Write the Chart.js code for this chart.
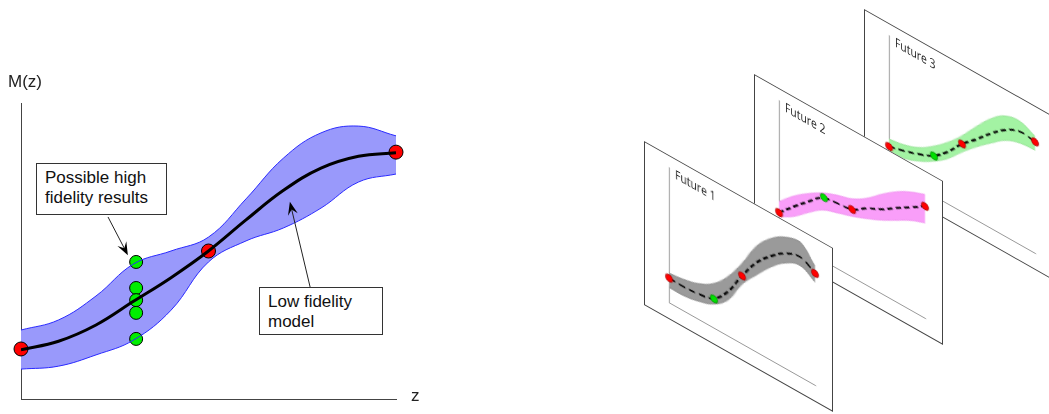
<!DOCTYPE html>
<html>
<head>
<meta charset="utf-8">
<style>
  body { margin: 0; background: #fff; }
  #wrap { position: relative; width: 1049px; height: 414px; overflow: hidden; font-family: "Liberation Sans", Arial, sans-serif; }
  #mainChart { position: absolute; left: 0; top: 0; }
  .lbl { position: absolute; font-size: 17px; color: #222; line-height: 20px; }
  .box { position: absolute; border: 1px solid #333; background: #fff; box-sizing: border-box; font-size: 17px; line-height: 20px; color: #111; padding: 4px 0 0 8px; }
  .plane { position: absolute; width: 189px; height: 164px; box-sizing: border-box; border: 1px solid #444; background: #fff;
           transform: skewY(29.5deg); transform-origin: 0 0; }
  .plane canvas { position: absolute; left: -1px; top: -1px; }
  .ftitle { position: absolute; left: 30px; top: 5px; font-family: "Open Sans", sans-serif; font-size: 13px; color: #222;
            transform: scaleX(0.8); transform-origin: 0 0; white-space: nowrap; }
</style>
</head>
<body>
<div id="wrap">
  <canvas id="mainChart" width="440" height="414"></canvas>
  <div class="lbl" style="left:8px; top:72px;">M(z)</div>
  <div class="lbl" style="left:411px; top:386px;">z</div>
  <div class="box" style="left:36px; top:163px; width:131px; height:52px;">Possible high<br>fidelity results</div>
  <div class="box" style="left:259px; top:287px; width:124px; height:48px;">Low fidelity<br>model</div>

  <div class="plane" style="left:864px; top:9px; z-index:1;"><canvas id="f3" width="189" height="164"></canvas><div class="ftitle">Future 3</div></div>
  <div class="plane" style="left:754px; top:74px; z-index:2;"><canvas id="f2" width="189" height="164"></canvas><div class="ftitle">Future 2</div></div>
  <div class="plane" style="left:644px; top:141px; z-index:3;"><canvas id="f1" width="189" height="164"></canvas><div class="ftitle">Future 1</div></div>
</div>

<script src="https://cdn.jsdelivr.net/npm/chart.js"></script>
<script>
// ---- data ----
var zs = [0, 1, 2, 3, 4, 5, 6, 7, 8, 9, 10]

// left panel: low fidelity model
var lowMean  = [1.66, 1.95, 2.5, 3.3, 4.1, 5.0, 6.05, 7.05, 7.8, 8.2, 8.32]
var lowUpper = [2.33, 2.67, 3.48, 4.56, 5.0, 5.47, 6.76, 8.14, 8.99, 9.22, 8.89]
var lowLower = [1.01, 1.11, 1.49, 1.99, 3.0, 4.63, 5.34, 5.78, 6.45, 7.33, 7.6]
var redZ = [0, 5, 10]
var redM = [1.69, 5.0, 8.34]
var greenZ = [3.07, 3.07, 3.07, 3.07, 3.07]
var greenM = [4.63, 3.75, 3.34, 2.91, 2.03]

// annotation arrows (data units): [fromZ, fromM, toZ, toM]
var arrowHigh = [2.32, 6.15, 2.85, 4.86]
var arrowLow  = [7.71, 3.78, 7.17, 6.66]

// futures
var f1Mean  = [1.78, 1.75, 1.85, 2.1, 3.2, 5.0, 6.6, 7.7, 8.5, 8.84, 8.25]
var f1Upper = [2.15, 2.3, 2.6, 3.2, 4.3, 5.9, 7.8, 9.0, 9.7, 9.95, 8.8]
var f1Lower = [1.1, 1.1, 1.3, 1.7, 2.6, 4.4, 5.7, 6.9, 7.8, 8.2, 7.6]
var f1Red = [1.78, 5.0, 8.25]
var f1Green = 2.12

var f2Mean  = [1.67, 2.72, 3.7, 4.6, 4.8, 4.96, 5.66, 6.2, 6.9, 7.57, 8.26]
var f2Upper = [2.48, 3.5, 4.3, 4.95, 5.4, 5.75, 6.4, 7.3, 8.1, 8.7, 9.13]
var f2Lower = [1.37, 2.0, 2.9, 3.7, 4.1, 4.46, 4.9, 5.4, 6.0, 6.6, 7.03]
var f2Red = [1.67, 4.96, 8.26]
var f2Green = 4.66

var f3Mean  = [1.75, 2.05, 2.42, 2.9, 3.8, 5.0, 5.96, 7.0, 7.87, 8.35, 8.21]
var f3Upper = [2.3, 2.5, 2.9, 3.6, 4.5, 5.6, 6.9, 8.1, 8.9, 9.1, 8.63]
var f3Lower = [1.38, 1.5, 1.9, 2.5, 3.3, 4.4, 5.4, 6.3, 7.1, 7.5, 7.6]
var f3Red = [1.75, 5.0, 8.21]
var f3Green = 2.93
var futureGreenZ = 3.08

function pts(xs, ys) {
    return xs.map(function (x, i) { return { x: x, y: ys[i] } })
}

function drawArrow(chart, a) {
    var sx = chart.scales.x, sy = chart.scales.y
    var x1 = sx.getPixelForValue(a[0]), y1 = sy.getPixelForValue(a[1])
    var x2 = sx.getPixelForValue(a[2]), y2 = sy.getPixelForValue(a[3])
    var ctx = chart.ctx
    var ang = Math.atan2(y2 - y1, x2 - x1)
    var len = 13, wid = 5
    ctx.save()
    ctx.strokeStyle = '#222'
    ctx.fillStyle = '#000'
    ctx.lineWidth = 1
    ctx.beginPath()
    ctx.moveTo(x1, y1)
    ctx.lineTo(x2 - Math.cos(ang) * len * 0.6, y2 - Math.sin(ang) * len * 0.6)
    ctx.stroke()
    ctx.beginPath()
    ctx.moveTo(x2, y2)
    ctx.lineTo(x2 - Math.cos(ang) * len - Math.sin(ang) * wid, y2 - Math.sin(ang) * len + Math.cos(ang) * wid)
    ctx.lineTo(x2 - Math.cos(ang) * len * 0.6, y2 - Math.sin(ang) * len * 0.6)
    ctx.lineTo(x2 - Math.cos(ang) * len + Math.sin(ang) * wid, y2 - Math.sin(ang) * len - Math.cos(ang) * wid)
    ctx.closePath()
    ctx.fill()
    ctx.restore()
}

var arrows = {
    id: 'arrows',
    afterDraw: function (chart) {
        drawArrow(chart, arrowHigh)
        drawArrow(chart, arrowLow)
    }
}

function axes(color) {
    return {
        x: { type: 'linear', min: 0, max: 10,
             grid: { display: false, drawTicks: false }, ticks: { display: false },
             border: { display: true, color: color, width: 1 } },
        y: { type: 'linear', min: 0, max: 10,
             grid: { display: false, drawTicks: false }, ticks: { display: false },
             border: { display: true, color: color, width: 1 } }
    }
}

// ---- left chart ----
var mainChart = new Chart(document.getElementById('mainChart'), {
    type: 'line',
    data: {
        datasets: [
            { data: pts(zs, lowUpper), borderColor: '#2a2aff', borderWidth: 1, fill: '+1',
              backgroundColor: '#9999fb', pointRadius: 0, tension: 0.4, order: 2 },
            { data: pts(zs, lowLower), borderColor: '#2a2aff', borderWidth: 1, fill: false,
              pointRadius: 0, tension: 0.4, order: 2 },
            { data: pts(zs, lowMean), borderColor: '#000', borderWidth: 3, fill: false,
              pointRadius: 0, tension: 0.4, order: 1 },
            { data: pts(redZ, redM), showLine: false, pointRadius: 7, pointBackgroundColor: '#ff0000',
              pointBorderColor: '#000', pointBorderWidth: 1, clip: false, order: 5 },
            { data: pts(greenZ, greenM), showLine: false, pointRadius: 6.5, pointBackgroundColor: '#00ee00',
              pointBorderColor: '#000', pointBorderWidth: 1, clip: false, order: 5 }
        ]
    },
    options: {
        responsive: false,
        animation: false,
        layout: { padding: { left: 21, right: 44, top: 103, bottom: 15 } },
        scales: axes('#444'),
        plugins: { legend: { display: false }, tooltip: { enabled: false },
                   filler: { drawTime: 'beforeDatasetsDraw' } }
    },
    plugins: [arrows]
})

// ---- future planes ----
function makeFuture(id, mean, upper, lower, red, green, fillCol, edgeCol) {
    return new Chart(document.getElementById(id), {
        type: 'line',
        data: {
            datasets: [
                { data: pts(zs, upper), borderColor: edgeCol, borderWidth: 0.8, fill: '+1',
                  backgroundColor: fillCol, pointRadius: 0, tension: 0.4, order: 2 },
                { data: pts(zs, lower), borderColor: edgeCol, borderWidth: 0.8, fill: false,
                  pointRadius: 0, tension: 0.4, order: 2 },
                { data: pts(zs, mean), borderColor: '#000', borderWidth: 1.8, borderDash: [6, 4],
                  fill: false, pointRadius: 0, tension: 0.4, order: 1 },
                { data: pts(redZ, red), showLine: false, pointRadius: 3.6, pointBackgroundColor: '#ff0000',
                  pointBorderColor: '#800', pointBorderWidth: 0.6, clip: false, order: 0 },
                { data: [{ x: futureGreenZ, y: green }], showLine: false, pointRadius: 3.6,
                  pointBackgroundColor: '#00e000', pointBorderColor: '#070', pointBorderWidth: 0.6, clip: false, order: 0 }
            ]
        },
        options: {
            responsive: false,
            animation: false,
            layout: { padding: { left: 25, right: 18, top: 12, bottom: 17 } },
            scales: axes('#999'),
            plugins: { legend: { display: false }, tooltip: { enabled: false },
                       filler: { drawTime: 'beforeDatasetsDraw' } }
        }
    })
}

var fut1 = makeFuture('f1', f1Mean, f1Upper, f1Lower, f1Red, f1Green, '#9a9a9a', '#808080')
var fut2 = makeFuture('f2', f2Mean, f2Upper, f2Lower, f2Red, f2Green, '#f99ef9', '#ee88ee')
var fut3 = makeFuture('f3', f3Mean, f3Upper, f3Lower, f3Red, f3Green, '#a3f3a3', '#90e090')
</script>
</body>
</html>
